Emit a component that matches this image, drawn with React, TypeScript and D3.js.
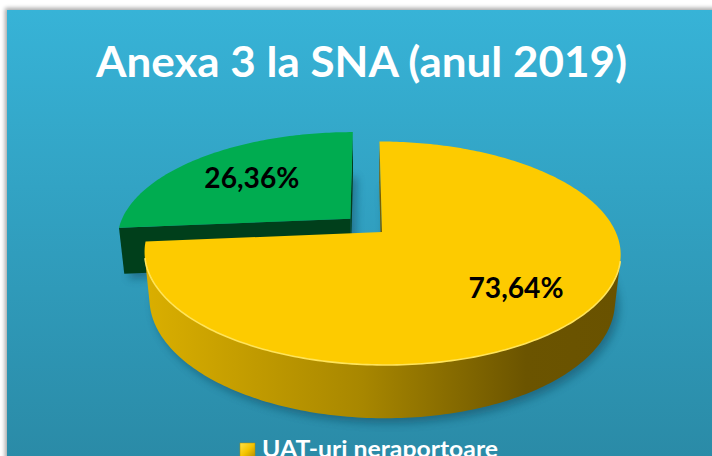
import React from 'react';
import * as d3 from 'd3';

// ---- data ----
const categories: string[] = ['UAT-uri neraportoare', 'UAT-uri raportoare'];
const values: number[] = [73.64, 26.36];
const valueLabels: string[] = ['73,64%', '26,36%'];
const chartTitle = 'Anexa 3 la SNA (anul 2019)';

// ---- layout / projection constants ----
const W = 712;
const H = 456;
const CX = 366;
const CY = 225.4;
const SCALE = 231;
const PERSP = 0.21;
const ALPHA = (27.1 * Math.PI) / 180;
const DEPTH = 0.228;
const EXPLODE = 0.093;
const LABEL_R = [0.7, 0.64];
const sinA = Math.sin(ALPHA);
const cosA = Math.cos(ALPHA);
const CAM = [0, cosA / PERSP, sinA / PERSP];

const topColors = ['#FDCB00', '#00AC50'];
const sideFill = ['url(#ySide)', '#00461F'];
const faceFill = ['#7A6000', '#003F1B'];
const rimLight = ['#FFE45A', '#3FD07E'];

type Pt = [number, number];

function project(u: number, v: number, h: number): Pt {
  const z = 1 - PERSP * (v * cosA + h * sinA);
  const yc = -v * sinA + h * cosA;
  return [CX + (SCALE * u) / z, CY - (SCALE * yc) / z];
}

const line = d3.line<Pt>();
const poly = (pts: Pt[]) => (line(pts) || '') + 'Z';

function arcPts(cu: number, cv: number, a0: number, a1: number, h: number): Pt[] {
  const n = Math.max(2, Math.ceil(Math.abs(a1 - a0) / (Math.PI / 180)));
  const out: Pt[] = [];
  for (let i = 0; i <= n; i++) {
    const a = a0 + ((a1 - a0) * i) / n;
    out.push(project(cu + Math.sin(a), cv - Math.cos(a), h));
  }
  return out;
}

function rimVisible(cu: number, cv: number, a: number) {
  return -cu * Math.sin(a) - Math.cos(a) * (CAM[1] - cv) - 1 > 0;
}

export default function App() {
  const pie = d3.pie<number>().sort(null).value((d) => d);
  const arcs = pie(values);

  const slices = arcs.map((a, i) => {
    const mid = (a.startAngle + a.endAngle) / 2;
    const cu = EXPLODE * Math.sin(mid);
    const cv = -EXPLODE * Math.cos(mid);
    const a0 = a.startAngle;
    const a1 = a.endAngle;
    const c0 = project(cu, cv, 0);
    const topPath = poly([c0, ...arcPts(cu, cv, a0, a1, 0)]);
    const bottomPath = poly([project(cu, cv, -DEPTH), ...arcPts(cu, cv, a0, a1, -DEPTH)]);

    // visible rim runs
    const n = Math.max(2, Math.ceil((a1 - a0) / (Math.PI / 360)));
    const runs: [number, number][] = [];
    let start: number | null = null;
    for (let k = 0; k <= n; k++) {
      const ang = a0 + ((a1 - a0) * k) / n;
      const vis = rimVisible(cu, cv, ang);
      if (vis && start === null) start = ang;
      if ((!vis || k === n) && start !== null) {
        runs.push([start, vis ? ang : ang - (a1 - a0) / n]);
        start = null;
      }
    }
    const rimPaths = runs
      .filter((r) => r[1] > r[0])
      .map((r) => {
        const t = arcPts(cu, cv, r[0], r[1], 0);
        const b = arcPts(cu, cv, r[0], r[1], -DEPTH).reverse();
        return { band: poly([...t, ...b]), edge: line(t) || '' };
      });

    // cut faces
    const faces: string[] = [];
    const camDu = CAM[0] - cu;
    const camDv = CAM[1] - cv;
    const face = (ang: number) =>
      poly([
        project(cu, cv, 0),
        project(cu + Math.sin(ang), cv - Math.cos(ang), 0),
        project(cu + Math.sin(ang), cv - Math.cos(ang), -DEPTH),
        project(cu, cv, -DEPTH),
      ]);
    if (-Math.cos(a0) * camDu - Math.sin(a0) * camDv > 0) faces.push(face(a0));
    if (Math.cos(a1) * camDu + Math.sin(a1) * camDv > 0) faces.push(face(a1));

    const lr = LABEL_R[i];
    const lp = project(cu + lr * Math.sin(mid), cv - lr * Math.cos(mid), 0);
    return { i, cv, topPath, bottomPath, rimPaths, faces, lp };
  });

  const order = [...slices].sort((a, b) => a.cv - b.cv);

  return (
    <svg
      width={W}
      height={H}
      viewBox={`0 0 ${W} ${H}`}
      style={{ position: 'absolute', left: 0, top: 0, display: 'block' }}
    >
      <defs>
        <linearGradient id="bg" x1="0" y1="0" x2="0" y2="1">
          <stop offset="0" stopColor="#37B3D7" />
          <stop offset="1" stopColor="#2A8AA6" />
        </linearGradient>
        <linearGradient id="ySide" gradientUnits="userSpaceOnUse" x1="150" y1="0" x2="620" y2="0">
          <stop offset="0" stopColor="#D9AE00" />
          <stop offset="0.45" stopColor="#A88700" />
          <stop offset="0.8" stopColor="#6B5400" />
          <stop offset="1" stopColor="#695200" />
        </linearGradient>
        <linearGradient id="marker" x1="0" y1="0" x2="1" y2="1">
          <stop offset="0" stopColor="#FFE24A" />
          <stop offset="0.5" stopColor="#F5C400" />
          <stop offset="1" stopColor="#B38C00" />
        </linearGradient>
        <filter id="blur6" x="-20%" y="-20%" width="140%" height="140%">
          <feGaussianBlur stdDeviation="4" />
        </filter>
        <filter id="blur2" x="-20%" y="-20%" width="140%" height="140%">
          <feGaussianBlur stdDeviation="2" />
        </filter>
        <filter id="soft" x="-5%" y="-5%" width="110%" height="110%">
          <feGaussianBlur stdDeviation="0.7" />
        </filter>
      </defs>

      <rect x={0} y={0} width={W} height={H} fill="#ffffff" />
      <rect x={5} y={8} width={W} height={H} fill="#000" opacity={0.35} filter="url(#blur2)" />
      <rect x={7} y={10} width={W} height={H} fill="url(#bg)" />

      <text
        x={96}
        y={77}
        textLength={531}
        lengthAdjust="spacingAndGlyphs"
        fill="#ffffff"
        fontFamily="Lato, 'Open Sans', sans-serif"
        fontWeight="bold"
        fontSize={42}
      >
        {chartTitle}
      </text>

      {/* shadows */}
      <g transform="translate(4,5)" filter="url(#blur6)" opacity={0.45}>
        {slices.map((s) => (
          <path key={'sh' + s.i} d={s.bottomPath} fill="#0B3E52" />
        ))}
      </g>

      {order.map((s) => (
        <g key={'sl' + s.i}>
          {s.rimPaths.map((r, k) => (
            <path key={'rim' + k} d={r.band} fill={sideFill[s.i]} />
          ))}
          {s.faces.map((f, k) => (
            <path key={'face' + k} d={f} fill={faceFill[s.i]} />
          ))}
          <path d={s.topPath} fill={topColors[s.i]} />
          {s.rimPaths.map((r, k) => (
            <path
              key={'edge' + k}
              d={r.edge}
              fill="none"
              stroke={rimLight[s.i]}
              strokeWidth={1.6}
              filter="url(#soft)"
            />
          ))}
        </g>
      ))}

      {slices.map((s) => (
        <text
          key={'lab' + s.i}
          x={s.lp[0]}
          y={s.lp[1] + 10}
          textAnchor="middle"
          textLength={95}
          lengthAdjust="spacingAndGlyphs"
          fill="#000000"
          fontFamily="Lato, 'Open Sans', sans-serif"
          fontWeight="bold"
          fontSize={28}
        >
          {valueLabels[s.i]}
        </text>
      ))}

      {/* legend */}
      <g>
        <rect x={240} y={443} width={15} height={15} fill="url(#marker)" stroke="#B38C00" strokeWidth={0.5} />
        <text
          x={262}
          y={457}
          textLength={236}
          lengthAdjust="spacingAndGlyphs"
          fill="#ffffff"
          fontFamily="Lato, 'Open Sans', sans-serif"
          fontWeight="bold"
          fontSize={23}
        >
          {categories[0]}
        </text>
      </g>
    </svg>
  );
}
